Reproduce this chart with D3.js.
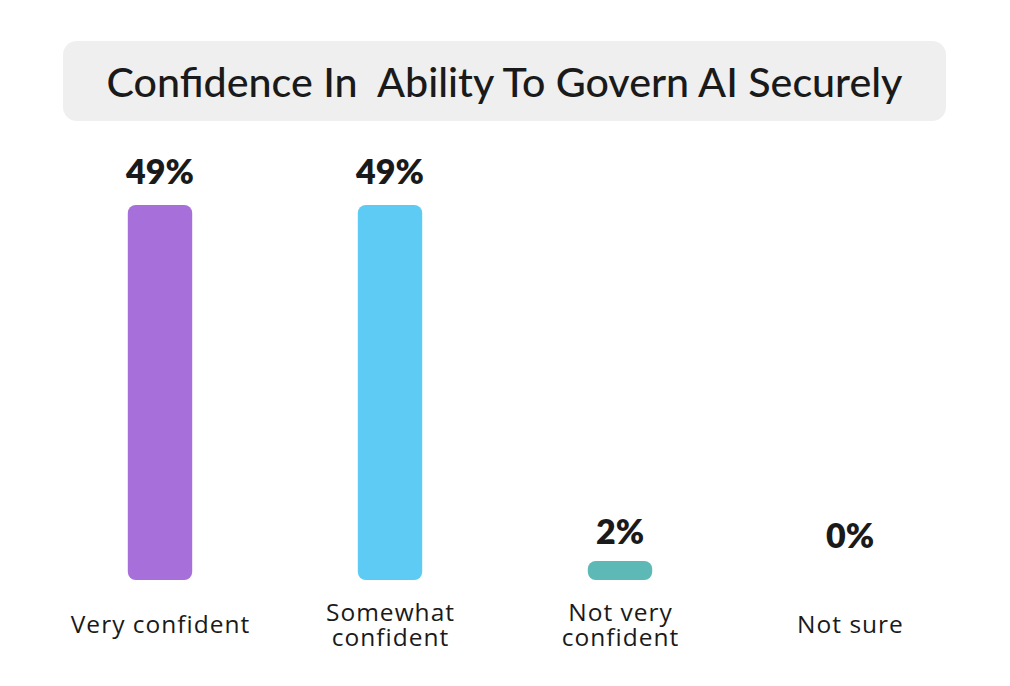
<!DOCTYPE html>
<html><head><meta charset="utf-8">
<script src="https://cdn.jsdelivr.net/npm/d3@7"></script>
<style>
html,body{margin:0;padding:0;background:#fff;}
svg{display:block;font-family:Lato,"Noto Sans",sans-serif;}
</style></head>
<body>
<svg id="chart" width="1010" height="686"></svg>
<script>
const title = "Confidence In  Ability To Govern AI Securely";
const categories = ["Very confident", "Somewhat confident", "Not very confident", "Not sure"];
const categoryLines = [["Very confident"], ["Somewhat", "confident"], ["Not very", "confident"], ["Not sure"]];
const values = [49, 49, 2, 0];
const valueLabels = ["49%", "49%", "2%", "0%"];
const colors = ["#a76fd9", "#5ecbf4", "#5cb9b6", "#cccccc"];

const svg = d3.select("#chart");

// title box
svg.append("rect").attr("x", 63).attr("y", 41).attr("width", 883).attr("height", 80)
  .attr("rx", 14).attr("fill", "#efefef");
const t = svg.append("text").attr("x", 504.5).attr("y", 97).attr("text-anchor", "middle")
  .attr("fill", "#1a1a1a").style("white-space", "pre").style("font-weight", 500)
  .style("font-size", "36px").text(title);
const tw = t.node().getComputedTextLength();
t.style("font-size", (36 * 796 / tw).toFixed(2) + "px");

const x = d3.scaleBand().domain(categories).range([45, 965]).paddingInner(0.72).paddingOuter(0.36);
const y = d3.scaleLinear().domain([0, 49]).range([580, 205]);

const g = svg.append("g");
const bw = x.bandwidth();
const cx = c => x(c) + bw / 2;

g.selectAll("rect.bar").data(values).join("rect").attr("class", "bar")
  .attr("x", (d, i) => x(categories[i]))
  .attr("y", d => Math.min(y(d), y(0) - 19))
  .attr("width", bw)
  .attr("height", d => d > 0 ? Math.max(y(0) - y(d), 19) : 0)
  .attr("rx", 8)
  .attr("fill", (d, i) => colors[i]);

g.selectAll("text.val").data(values).join("text").attr("class", "val")
  .attr("x", (d, i) => cx(categories[i]))
  .attr("y", d => Math.min(y(d), y(0) - 11) - 21)
  .attr("text-anchor", "middle").attr("fill", "#1a1a1a")
  .style("font-weight", 800).style("font-size", "34px")
  .text((d, i) => valueLabels[i]);

categoryLines.forEach((lines, i) => {
  const tx = g.append("text").attr("text-anchor", "middle").attr("fill", "#1a1a1a")
    .style("font-family", "'Open Sans', sans-serif").style("font-weight", 500)
    .style("font-size", "24.5px").style("letter-spacing", "1px");
  const n = lines.length;
  lines.forEach((ln, j) => {
    tx.append("tspan").attr("x", cx(categories[i]) + 0.5)
      .attr("y", 633 + (j - (n - 1) / 2) * 25).text(ln);
  });
});
</script>
</body></html>
